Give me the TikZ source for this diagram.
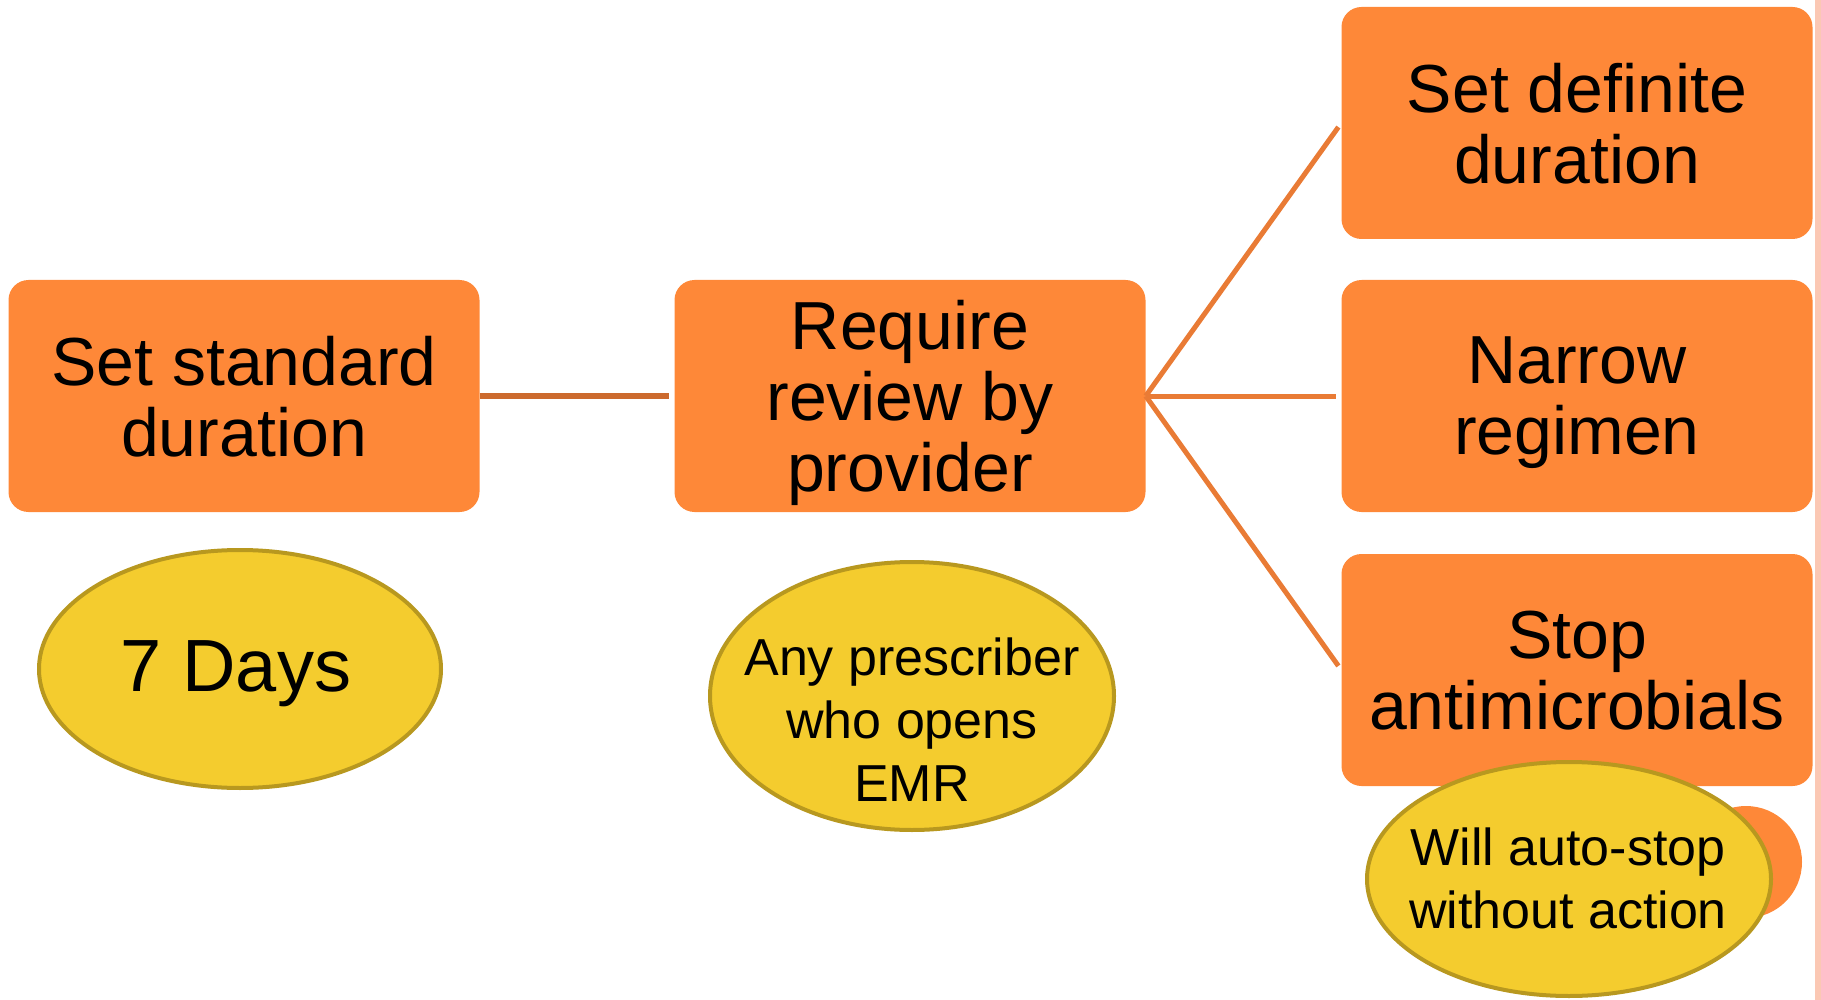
\documentclass[tikz,border=0pt]{standalone}
\usepackage{fontspec}
\setmainfont{Liberation Sans}
\usetikzlibrary{shapes.geometric}

\definecolor{boxorange}{HTML}{FE8838}
\definecolor{notegold}{HTML}{F4CC2E}
\definecolor{noteedge}{HTML}{B8981F}
\definecolor{linkdark}{HTML}{CC6A2E}
\definecolor{linkorange}{HTML}{E97B35}
\definecolor{edgepink}{HTML}{FBC8B4}

\begin{document}
\begin{tikzpicture}[x=1pt, y=-1pt,
    choice/.style={rectangle, rounded corners=20pt, fill=boxorange, minimum width=471pt, minimum height=232pt, inner sep=0pt, align=center, text depth=0pt, font=\fontsize{68}{71}\selectfont},
    note/.style={ellipse, draw=noteedge, line width=4pt, fill=notegold, inner sep=0pt},
    notetext/.style={inner sep=0pt, align=center, text depth=0pt, font=\fontsize{52}{63}\selectfont},
    link/.style={draw=linkorange, line width=5pt, shorten >=5pt}]
    \useasboundingbox (0,0) rectangle (1821,1000);
    \fill[edgepink] (1815,0) rectangle (1821,1000);

    \node (standard)[choice] at (244, 396) {Set standard\\duration};
    \node (review)[choice] at (910, 396) {Require\\review by\\provider};
    \node (definite)[choice] at (1577, 123) {Set definite\\duration};
    \node (narrow)[choice] at (1577, 396) {Narrow\\regimen};
    \node (stop)[choice] at (1577, 670) {Stop\\antimicrobials};

    \node (days)[note, minimum width=402pt, minimum height=238pt] at (240, 669) {};
    \node (daystext)[notetext, font=\fontsize{74}{80}\selectfont] at (236, 666) {7 Days};
    \node (anyone)[note, minimum width=404pt, minimum height=268pt] at (912, 696) {};
    \node (anyonetext)[notetext] at (912, 720) {Any prescriber\\who opens\\EMR};
    \node (dot)[circle, fill=boxorange, minimum size=112pt, inner sep=0pt] at (1746, 862) {};
    \node (autostop)[note, minimum width=404pt, minimum height=234pt] at (1569, 879) {};
    \node (autostoptext)[notetext] at (1568, 878) {Will auto-stop\\without action};

    \draw [link, draw=linkdark, line width=6pt] (standard) -- (review);
    \draw [link] (review.east) -- (definite.west);
    \draw [link] (review.east) -- (narrow.west);
    \draw [link] (review.east) -- (stop.west);
\end{tikzpicture}
\end{document}
